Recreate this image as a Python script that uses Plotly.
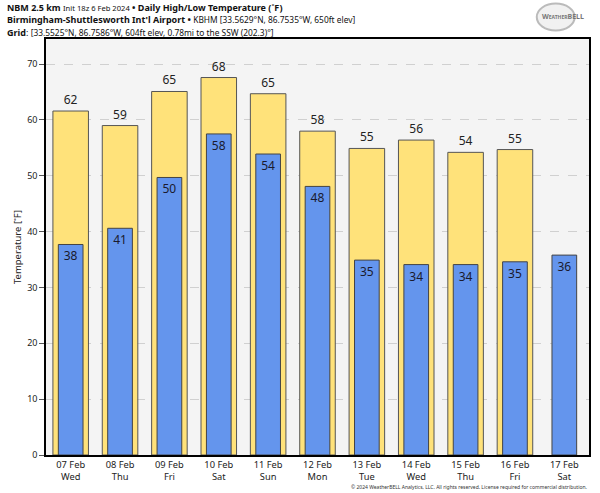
import plotly.graph_objects as go

dates = ["07 Feb", "08 Feb", "09 Feb", "10 Feb", "11 Feb", "12 Feb",
         "13 Feb", "14 Feb", "15 Feb", "16 Feb", "17 Feb"]
weekdays = ["Wed", "Thu", "Fri", "Sat", "Sun", "Mon", "Tue", "Wed", "Thu", "Fri", "Sat"]
highs = [61.6, 59.0, 65.1, 67.6, 64.7, 58.0, 54.9, 56.4, 54.2, 54.7, None]
lows = [37.7, 40.6, 49.7, 57.5, 53.9, 48.1, 34.9, 34.1, 34.1, 34.6, 35.8]
yticks = [0, 10, 20, 30, 40, 50, 60, 70]

xs = list(range(len(dates)))
ticktext = [f"{d}<br>{w}" for d, w in zip(dates, weekdays)]
FONT = "Noto Sans"

fig = go.Figure()
fig.add_trace(go.Bar(
    x=xs, y=highs, width=0.72,
    marker=dict(color="#FFE27A", line=dict(color="#555555", width=1)),
    text=[("" if v is None else str(int(round(v)))) for v in highs],
    textposition="outside", textfont=dict(size=12, color="#222222", family=FONT),
    cliponaxis=False, hoverinfo="skip",
))
fig.add_trace(go.Bar(
    x=xs, y=lows, width=0.5,
    marker=dict(color="#6495ED", line=dict(color="#444444", width=1)),
    text=[str(int(round(v))) for v in lows],
    textposition="inside", insidetextanchor="end",
    textfont=dict(size=12, color="#1a1a2e", family=FONT),
    hoverinfo="skip",
))

pl, pr, pt, pb = 45.7, 589.3, 38.5, 455
W, H = 600, 493
pw = pr - pl
ph = pb - pt

def px_x(x):
    return (x - pl) / pw

def px_y(y):
    return (pb - y) / ph

annotations = [
    dict(text="<b>NBM 2.5 km</b> <span style='font-size:7.6px'>Init 18z 6 Feb 2024</span> <b>•</b> <b>Daily High/Low Temperature (˚F)</b>",
         x=px_x(5), y=px_y(7), xanchor="left", yanchor="middle", font=dict(size=9.0)),
    dict(text="<b>Birmingham-Shuttlesworth Int'l Airport</b> <b>•</b> <span style='font-size:8.4px'>KBHM [33.5629°N, 86.7535°W, 650ft elev]</span>",
         x=px_x(5), y=px_y(19.3), xanchor="left", yanchor="middle", font=dict(size=9.0)),
    dict(text="<b>Grid</b>: <span style='font-size:8.4px'>[33.5525°N, 86.7586°W, 604ft elev, 0.78mi to the SSW (202.3)°]</span>",
         x=px_x(5), y=px_y(31.6), xanchor="left", yanchor="middle", font=dict(size=9.0)),
    dict(text="© 2024 WeatherBELL Analytics, LLC. All rights reserved. License required for commercial distribution.",
         x=px_x(589), y=px_y(487), xanchor="right", yanchor="middle", font=dict(size=5, color="#333333")),
    dict(text="<b>W<span style='font-size:5px'>EATHER</span>BELL</b>",
         x=px_x(563), y=px_y(16), xanchor="center", yanchor="middle", font=dict(size=7, color="#777777")),
]
for a in annotations:
    a.update(xref="paper", yref="paper", showarrow=False)
    a.setdefault("font", {})
    a["font"].setdefault("family", FONT)
    a["font"].setdefault("color", "#111111")

shapes = [
    dict(type="circle", xref="paper", yref="paper",
         x0=px_x(537), x1=px_x(575), y0=px_y(3), y1=px_y(30),
         line=dict(color="#bbbbbb", width=2), fillcolor="rgba(200,200,200,0.25)"),
]

fig.update_layout(
    width=W, height=H,
    margin=dict(l=pl, r=W - pr, t=pt, b=H - pb, pad=0),
    paper_bgcolor="white", plot_bgcolor="#f4f4f4",
    barmode="overlay", showlegend=False,
    font=dict(family=FONT, size=10, color="#222222"),
    annotations=annotations, shapes=shapes,
    xaxis=dict(range=[-0.5, 10.5], tickvals=xs, ticktext=ticktext,
               showline=True, linecolor="black", linewidth=1.5, mirror=True,
               showgrid=False, ticks="", tickfont=dict(size=9.3, color="#222222"),
               zeroline=False, fixedrange=True),
    yaxis=dict(range=[0, 74.5], tickvals=yticks,
               showline=True, linecolor="black", linewidth=1.5, mirror=True,
               showgrid=True, gridcolor="#d0d0d0", griddash="dash", gridwidth=1,
               ticks="outside", ticklen=5, tickcolor="#555555",
               tickfont=dict(size=9, color="#222222"),
               title=dict(text="Temperature [˚F]", font=dict(size=9.5), standoff=4),
               zeroline=False, fixedrange=True),
)

fig.write_html("out.html", config={"displayModeBar": False},
               post_script="document.body.style.margin='0';")
